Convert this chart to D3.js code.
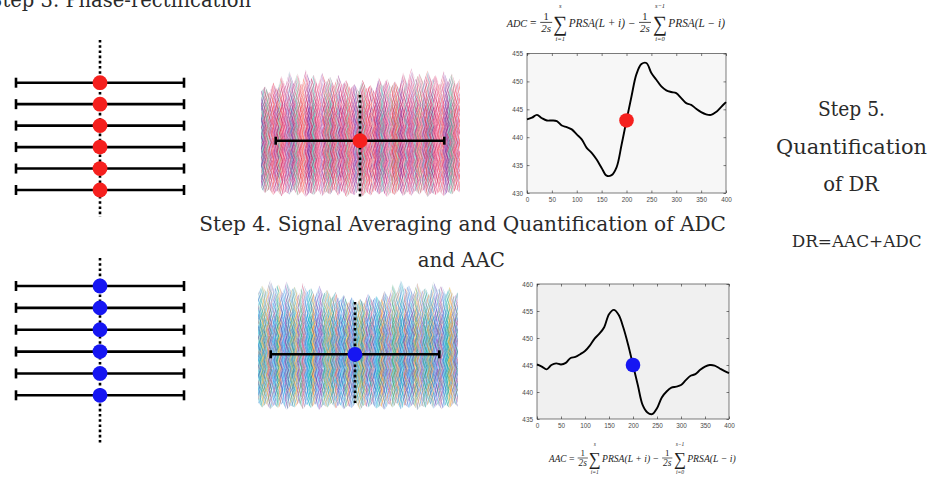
<!DOCTYPE html>
<html>
<head>
<meta charset="utf-8">
<script src="https://cdn.jsdelivr.net/npm/d3@7/dist/d3.min.js"></script>
<style>
  html, body { margin: 0; padding: 0; background: #ffffff; overflow: hidden; }
  svg { display: block; }
</style>
</head>
<body>
<svg id="fig" width="940" height="477"></svg>
<script>
// ---------- data ----------
// PRSA window around each anchor: lags L-s .. L+s
const lagRange = [-20, 20];
// anchors (RR decelerations / accelerations) aligned in phase-rectification
const anchorsDC = ["a1", "a2", "a3", "a4", "a5", "a6"];
const anchorsAC = ["b1", "b2", "b3", "b4", "b5", "b6"];

// averaged PRSA curves, sampled every 10 samples from 0 to 400
const lags = [0, 10, 20, 30, 40, 50, 60, 70, 80, 90, 100, 110, 120, 130, 140, 150, 160, 170, 180, 190, 200,
              210, 220, 230, 240, 250, 260, 270, 280, 290, 300, 310, 320, 330, 340, 350, 360, 370, 380, 390, 400];
const prsaDC = [443.2, 443.5, 444.0, 443.4, 443.0, 443.0, 442.9, 442.1, 441.8, 441.4, 440.5,
                439.6, 438.1, 437.2, 436.0, 434.5, 433.1, 433.2, 434.6, 438.6, 443.0,
                447.3, 451.3, 453.1, 453.3, 451.5, 450.3, 449.1, 448.4, 448.1, 447.9,
                447.0, 446.1, 445.8, 445.1, 444.5, 444.1, 444.0, 444.5, 445.4, 446.3];
const prsaAC = [445.1, 444.7, 444.2, 445.0, 445.3, 445.1, 445.4, 446.3, 446.5, 447.0, 447.6,
                448.6, 449.9, 450.8, 452.0, 454.4, 455.2, 454.3, 451.9, 448.7, 445.0,
                441.3, 437.6, 436.2, 435.9, 437.0, 439.0, 440.1, 440.8, 441.0, 441.3,
                442.2, 443.0, 443.3, 444.1, 444.7, 445.0, 444.9, 444.4, 443.9, 443.5];
// anchor point (L, PRSA(L))
const anchorDC = [200, 443];
const anchorAC = [200, 445];

const xTicks = [0, 50, 100, 150, 200, 250, 300, 350, 400];
const yTicksDC = [430, 435, 440, 445, 450, 455];
const yTicksAC = [435, 440, 445, 450, 455, 460];

// envelope of the superimposed RR segments (normalised amplitude)
const envTopDC = [0.62, 0.70, 0.58, 0.76, 0.64, 0.86, 0.70, 0.94, 0.74, 0.90, 0.72, 0.96, 0.78, 0.88, 0.70, 0.92,
                  0.76, 0.85, 0.70, 0.88, 0.72, 0.80, 0.66, 0.74, 0.62, 0.80, 0.66, 0.72, 0.60, 0.84, 0.70, 0.82,
                  0.68, 0.78, 0.66, 0.92, 0.74, 0.98, 0.80, 0.90, 0.76, 0.95, 0.78, 0.88, 0.72, 0.94, 0.76, 0.90,
                  0.72, 0.82];
const envBotDC = [-0.86, -0.94, -0.88, -0.97, -0.90, -0.99, -0.92, -0.96, -0.88, -0.98, -0.91, -1.0, -0.93, -0.97,
                  -0.89, -0.99, -0.92, -0.96, -0.88, -0.98, -0.90, -1.0, -0.94, -0.97, -0.90, -0.99, -0.92, -0.98,
                  -0.89, -0.96, -0.91, -1.0, -0.93, -0.97, -0.88, -0.99, -0.92, -0.98, -0.90, -0.96, -0.89, -1.0,
                  -0.93, -0.97, -0.91, -0.99, -0.92, -0.96, -0.88, -0.94];
const envTopAC = [0.78, 0.90, 0.80, 0.98, 0.84, 0.92, 0.78, 0.96, 0.82, 0.88, 0.74, 0.94, 0.80, 0.86, 0.72, 0.90,
                  0.76, 0.84, 0.70, 0.80, 0.66, 0.76, 0.62, 0.72, 0.60, 0.70, 0.62, 0.78, 0.66, 0.74, 0.64, 0.82,
                  0.70, 0.92, 0.78, 0.98, 0.84, 0.90, 0.76, 0.94, 0.80, 0.86, 0.74, 0.96, 0.82, 0.90, 0.76, 0.88,
                  0.72, 0.80];
const envBotAC = [-0.88, -0.96, -0.90, -0.99, -0.92, -0.97, -0.89, -1.0, -0.93, -0.96, -0.88, -0.99, -0.91, -0.97,
                  -0.90, -1.0, -0.92, -0.96, -0.89, -0.98, -0.91, -0.99, -0.93, -0.97, -0.88, -1.0, -0.92, -0.96,
                  -0.90, -0.98, -0.93, -1.0, -0.90, -0.96, -0.89, -0.99, -0.92, -0.97, -0.91, -1.0, -0.93, -0.96,
                  -0.88, -0.98, -0.91, -0.99, -0.92, -0.97, -0.89, -0.95];

const paletteDC = ["#d81b60", "#8e24aa", "#26a69a", "#e53935", "#f06292", "#6a1b9a", "#4db6ac", "#c2185b",
                   "#ff7043", "#9575cd", "#ad1457", "#66bb6a", "#ec407a"];
const paletteAC = ["#1e88e5", "#26a69a", "#fb8c00", "#43a047", "#8e24aa", "#00acc1", "#fbc02d", "#3949ab",
                   "#e57373", "#5c6bc0", "#009688", "#ffb74d", "#42a5f5"];

// ---------- drawing ----------
const svg = d3.select("#fig");
const defs = svg.append("defs");
const INK = "#2a2a2a";
const SERIF = "'DejaVu Serif', 'Liberation Serif', serif";
const MATH = "'Liberation Serif', 'DejaVu Serif', serif";
const RED = "#f5201e";
const BLUE = "#1616f2";

// zig-zag stripe patterns standing in for the dense overlay of RR traces;
// tiles of unequal size so the repeats do not line up
function stripePattern(id, palette, width, height, count, amp, first) {
  const p = defs.append("pattern").attr("id", id)
    .attr("patternUnits", "userSpaceOnUse").attr("width", width).attr("height", height);
  const step = width / count;
  for (let i = 0; i < count; i++) {
    const x = i * step + 0.5;
    p.append("path")
      .attr("d", `M${x},0 L${x + amp},${height / 2} L${x},${height}`)
      .attr("fill", "none")
      .attr("stroke", palette[(first + i * 5) % palette.length])
      .attr("stroke-width", 0.9)
      .attr("stroke-opacity", 0.6);
  }
}
stripePattern("stDC1", paletteDC, 17, 11, 8, 1.6, 0);
stripePattern("stDC2", paletteDC, 23, 15, 9, 2.4, 3);
stripePattern("stDC3", paletteDC, 31, 19, 11, 3.2, 7);
stripePattern("stAC1", paletteAC, 17, 11, 8, 1.6, 0);
stripePattern("stAC2", paletteAC, 23, 15, 9, 2.4, 3);
stripePattern("stAC3", paletteAC, 31, 19, 11, 3.2, 7);

const fade = defs.append("linearGradient").attr("id", "fadeV")
  .attr("x1", 0).attr("y1", 0).attr("x2", 0).attr("y2", 1);
[[0, 0.3], [0.18, 0.65], [0.32, 1], [0.84, 1], [1, 0.45]].forEach(([o, a]) =>
  fade.append("stop").attr("offset", o).attr("stop-color", "#fff").attr("stop-opacity", a));
const core = defs.append("linearGradient").attr("id", "coreV")
  .attr("x1", 0).attr("y1", 0).attr("x2", 0).attr("y2", 1);
[[0, 0], [0.25, 0.15], [0.45, 0.7], [0.72, 0.7], [0.9, 0.15], [1, 0]].forEach(([o, a]) =>
  core.append("stop").attr("offset", o).attr("stop-color", "#fff").attr("stop-opacity", a));

function dotted(g, x, y0, y1) {
  g.append("line").attr("x1", x).attr("x2", x).attr("y1", y0).attr("y2", y1)
    .attr("stroke", "#000").attr("stroke-width", 2.6).attr("stroke-dasharray", "2.6 2.6");
}

function windowBar(g, xs, y, capH) {
  const [a, b] = lagRange.map(xs);
  g.append("line").attr("x1", a).attr("x2", b).attr("y1", y).attr("y2", y)
    .attr("stroke", "#000").attr("stroke-width", 2.6);
  [a, b].forEach(x => g.append("line").attr("x1", x).attr("x2", x)
    .attr("y1", y - capH / 2).attr("y2", y + capH / 2)
    .attr("stroke", "#000").attr("stroke-width", 2.6));
}

// ---- Step 3: phase-rectified anchors ----
function rectPanel(anchors, yRange, dotY, color) {
  const g = svg.append("g");
  const xs = d3.scaleLinear().domain(lagRange).range([16, 184]);
  const ys = d3.scalePoint().domain(anchors).range(yRange);
  dotted(g, xs(0), dotY[0], dotY[1]);
  anchors.forEach(a => windowBar(g, xs, ys(a), 10));
  g.selectAll("circle").data(anchors).join("circle")
    .attr("cx", xs(0)).attr("cy", d => ys(d)).attr("r", 7.4).attr("fill", color);
}
rectPanel(anchorsDC, [82.7, 190], [40, 217], RED);
rectPanel(anchorsAC, [286, 395.3], [258, 445], BLUE);

// ---- Step 4: superimposed segments ----
function overlayPanel(id, top, bot, box, pats, barY, center, dotY, color) {
  const g = svg.append("g");
  const xs = d3.scaleLinear().domain([0, top.length - 1]).range([box.x0, box.x1]);
  const ys = d3.scaleLinear().domain([-1, 1]).range([box.y1, box.y0]);
  const area = d3.area().x((d, i) => xs(i)).y0((d, i) => ys(bot[i])).y1(d => ys(d));
  defs.append("clipPath").attr("id", "clip" + id).append("path").attr("d", area(top));
  const mk = (mid, grad) => defs.append("mask").attr("id", mid).append("rect")
    .attr("x", box.x0).attr("y", box.y0)
    .attr("width", box.x1 - box.x0).attr("height", box.y1 - box.y0).attr("fill", grad);
  mk("mf" + id, "url(#fadeV)");
  mk("mc" + id, "url(#coreV)");
  const body = g.append("g").attr("clip-path", `url(#clip${id})`);
  const r = (fill, mask) => body.append("rect").attr("x", box.x0 - 4).attr("y", box.y0)
    .attr("width", box.x1 - box.x0 + 8).attr("height", box.y1 - box.y0)
    .attr("fill", fill).attr("mask", mask);
  pats.forEach(p => r(`url(#${p})`, `url(#mf${id})`));
  r(`url(#${pats[1]})`, `url(#mc${id})`).attr("transform", "translate(1.3,0)");
  r(`url(#${pats[0]})`, `url(#mc${id})`).attr("transform", "translate(-1,0)");
  const ws = d3.scaleLinear().domain(lagRange).range([center - 84.3, center + 84.3]);
  dotted(g, center, dotY[0], dotY[1]);
  windowBar(g, ws, barY, 8);
  g.append("circle").attr("cx", center).attr("cy", barY).attr("r", 7.4).attr("fill", color);
}
overlayPanel("DC", envTopDC, envBotDC, { x0: 261, x1: 460, y0: 67, y1: 197 },
  ["stDC1", "stDC2", "stDC3"], 140.7, 360, [95, 197], RED);
overlayPanel("AC", envTopAC, envBotAC, { x0: 258, x1: 458, y0: 279, y1: 410 },
  ["stAC1", "stAC2", "stAC3"], 354.3, 355, [302, 403], BLUE);

// ---- averaged PRSA plots ----
function prsaChart(box, yDomain, yTicks, values, anchor, color, bg) {
  const g = svg.append("g");
  const x = d3.scaleLinear().domain([0, 400]).range([box.x0, box.x1]);
  const y = d3.scaleLinear().domain(yDomain).range([box.y1, box.y0]);
  g.append("rect").attr("x", box.x0).attr("y", box.y0)
    .attr("width", box.x1 - box.x0).attr("height", box.y1 - box.y0).attr("fill", bg);
  const style = sel => {
    sel.select(".domain").remove();
    sel.selectAll(".tick line").attr("stroke", "#262626").attr("stroke-width", 0.6);
    sel.selectAll(".tick text").attr("fill", "#4a4a4a")
      .style("font-family", "'Liberation Sans', Arial, sans-serif").style("font-size", "6.4px");
  };
  g.append("g").attr("transform", `translate(0,${box.y1})`)
    .call(d3.axisBottom(x).tickValues(xTicks).tickSizeInner(-2.5).tickSizeOuter(0).tickPadding(4)).call(style);
  g.append("g").attr("transform", `translate(0,${box.y0})`)
    .call(d3.axisTop(x).tickValues(xTicks).tickSizeInner(-2.5).tickSizeOuter(0).tickFormat("")).call(style);
  g.append("g").attr("transform", `translate(${box.x0},0)`)
    .call(d3.axisLeft(y).tickValues(yTicks).tickSizeInner(-2.5).tickSizeOuter(0).tickPadding(4)).call(style);
  g.append("g").attr("transform", `translate(${box.x1},0)`)
    .call(d3.axisRight(y).tickValues(yTicks).tickSizeInner(-2.5).tickSizeOuter(0).tickFormat("")).call(style);
  g.append("rect").attr("x", box.x0).attr("y", box.y0)
    .attr("width", box.x1 - box.x0).attr("height", box.y1 - box.y0)
    .attr("fill", "none").attr("stroke", "#262626").attr("stroke-width", 0.6);
  const line = d3.line().x((d, i) => x(lags[i])).y(d => y(d)).curve(d3.curveCatmullRom);
  g.append("path").attr("d", line(values)).attr("fill", "none")
    .attr("stroke", "#000").attr("stroke-width", 1.9).attr("stroke-linejoin", "round");
  g.append("circle").attr("cx", x(anchor[0])).attr("cy", y(anchor[1])).attr("r", 7.3).attr("fill", color);
}
prsaChart({ x0: 527, x1: 726, y0: 53.5, y1: 193 }, [430, 455], yTicksDC, prsaDC, anchorDC, RED, "#f7f7f7");
prsaChart({ x0: 537, x1: 729, y0: 284, y1: 419 }, [435, 460], yTicksAC, prsaAC, anchorAC, BLUE, "#f0f0f0");

// ---- formulas ----
function formula(label, tx, ty, k) {
  const g = svg.append("g").attr("transform", `translate(${tx},${ty}) scale(${k})`)
    .attr("fill", "#1e1e1e").style("font-family", MATH);
  const t = (s, x, y, size, opts = {}) => {
    const e = g.append("text").attr("x", x).attr("y", y).text(s)
      .style("font-size", size + "px")
      .style("font-style", opts.roman ? "normal" : "italic")
      .attr("text-anchor", opts.anchor || "start");
    if (opts.w) e.attr("textLength", opts.w).attr("lengthAdjust", "spacingAndGlyphs");
    return e;
  };
  const frac = cx => {
    t("1", cx, -3, 10.5, { anchor: "middle", roman: true });
    g.append("line").attr("x1", cx - 6).attr("x2", cx + 6).attr("y1", -0.6).attr("y2", -0.6)
      .attr("stroke", "#1e1e1e").attr("stroke-width", 0.8);
    t("2s", cx, 9.2, 11, { anchor: "middle" });
  };
  const sum = (cx, up, lo) => {
    t("\u2211", cx, 8, 22, { anchor: "middle", roman: true, w: 14 });
    t(up, cx, -15, 6.5, { anchor: "middle" });
    t(lo, cx, 17.8, 6.5, { anchor: "middle" });
  };
  t(label, 0, 4, 11, { w: 20.5 });
  t("=", 26.5, 4, 11.5, { anchor: "middle", roman: true });
  frac(39.5);
  sum(53.6, "s", "i=1");
  t("PRSA(L + i)", 62, 4, 11.5, { w: 56.3 });
  t("\u2212", 125, 4, 11.5, { anchor: "middle", roman: true });
  frac(138.3);
  sum(153.3, "s\u22121", "i=0");
  t("PRSA(L \u2212 i)", 161.6, 4, 11.5, { w: 56.7 });
}
formula("ADC", 506.7, 23, 1);
formula("AAC", 549, 458.5, 0.855);

// ---- step captions ----
function caption(s, x, y, size, w, anchor) {
  svg.append("text").attr("x", x).attr("y", y).text(s)
    .attr("fill", INK).attr("text-anchor", anchor || "start")
    .style("font-family", SERIF).style("font-size", size + "px")
    .attr("textLength", w).attr("lengthAdjust", "spacingAndGlyphs");
}
caption("Step 3. Phase-rectification", -11, 7, 20, 262);
caption("Step 4. Signal Averaging and Quantification of ADC", 199.3, 231, 20, 526.7);
caption("and AAC", 417.7, 266.7, 20, 87.3);
caption("Step 5.", 851.5, 116, 20, 67, "middle");
caption("Quantification", 851.5, 154, 20, 151, "middle");
caption("of DR", 851, 190.7, 20, 55.7, "middle");
caption("DR=AAC+ADC", 856.7, 246.7, 16, 130, "middle");
</script>
</body>
</html>
